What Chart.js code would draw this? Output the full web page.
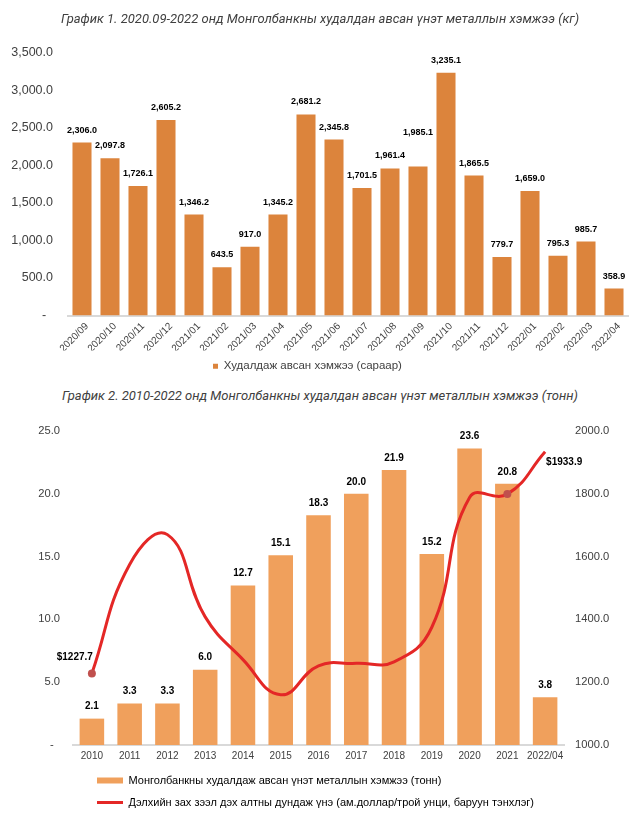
<!DOCTYPE html>
<html>
<head>
<meta charset="utf-8">
<script src="https://cdn.jsdelivr.net/npm/chart.js@4.4.1/dist/chart.umd.min.js"></script>
<style>
  html, body { margin: 0; padding: 0; background: #ffffff; }
  body { width: 640px; height: 813px; position: relative; overflow: hidden; }
  .title { position: absolute; left: 0; width: 640px; text-align: center; font: italic 13px Roboto, "Liberation Sans", sans-serif; color: #404040; line-height: 16px; z-index: 2; }
  #c1 { position: absolute; left: 0; top: 0; }
  #c2 { position: absolute; left: 0; top: 410px; }
</style>
</head>
<body>
<div class="title" style="top:11px">График 1. 2020.09-2022 онд Монголбанкны худалдан авсан үнэт металлын хэмжээ (кг)</div>
<canvas id="c1" width="640" height="382"></canvas>
<div class="title" style="top:388px">График 2. 2010-2022 онд Монголбанкны худалдан авсан үнэт металлын хэмжээ (тонн)</div>
<canvas id="c2" width="640" height="408"></canvas>
<script>
// ---------- Chart 1 data ----------
const months = ['2020/09','2020/10','2020/11','2020/12','2021/01','2021/02','2021/03','2021/04','2021/05','2021/06',
                '2021/07','2021/08','2021/09','2021/10','2021/11','2021/12','2022/01','2022/02','2022/03','2022/04'];
const monthlyKg = [2306.0, 2097.8, 1726.1, 2605.2, 1346.2, 643.5, 917.0, 1345.2, 2681.2, 2345.8,
                   1701.5, 1961.4, 1985.1, 3235.1, 1865.5, 779.7, 1659.0, 795.3, 985.7, 358.9];
const monthlyLabel = 'Худалдаж авсан хэмжээ (сараар)';
const kgTicks = [0, 500, 1000, 1500, 2000, 2500, 3000, 3500];

// ---------- Chart 2 data ----------
const years = ['2010','2011','2012','2013','2014','2015','2016','2017','2018','2019','2020','2021','2022/04'];
const yearlyTonnes = [2.1, 3.3, 3.3, 6.0, 12.7, 15.1, 18.3, 20.0, 21.9, 15.2, 23.6, 20.8, 3.8];
const goldPrice = [1227.7, 1575, 1670, 1408, 1272, 1160, 1252, 1260, 1265, 1375, 1788, 1799, 1933.9];
const yearlyLabel = 'Монголбанкны худалдаж авсан үнэт металлын хэмжээ (тонн)';
const priceLabel = 'Дэлхийн зах зээл дэх алтны дундаж үнэ (ам.доллар/трой унци, баруун тэнхлэг)';
const tonneTicks = [0, 5, 10, 15, 20, 25];
const priceTicks = [1000, 1200, 1400, 1600, 1800, 2000];

const FONT = '"Liberation Sans", Arial, sans-serif';
const fmtKg = v => v.toLocaleString('en-US', {minimumFractionDigits: 1, maximumFractionDigits: 1});
const fmt1 = v => v.toFixed(1);

function legendShift(left) {
  return { id: 'legendShift', beforeDraw(chart) { if (chart.legend) chart.legend.left = left; } };
}

// ---------- Chart 1 ----------
const barLabels1 = {
  id: 'barLabels1',
  afterDatasetsDraw(chart) {
    const ctx = chart.ctx;
    const meta = chart.getDatasetMeta(0);
    const data = chart.data.datasets[0].data;
    const extra = { 12: 22 };
    ctx.save();
    ctx.font = 'bold 9px ' + FONT;
    ctx.fillStyle = '#000000';
    ctx.textAlign = 'center';
    ctx.textBaseline = 'middle';
    meta.data.forEach((el, i) => ctx.fillText(fmtKg(data[i]), el.x, el.y - 12.5 - (extra[i] || 0)));
    ctx.restore();
  }
};

new Chart(document.getElementById('c1'), {
  type: 'bar',
  data: {
    labels: months,
    datasets: [{
      label: monthlyLabel,
      data: monthlyKg,
      backgroundColor: '#DC843C',
      borderWidth: 0,
      barPercentage: 0.68,
      categoryPercentage: 1.0
    }]
  },
  options: {
    responsive: false,
    devicePixelRatio: 1,
    animation: false,
    layout: { padding: { top: 53, left: 0, right: 12, bottom: 0 } },
    plugins: {
      tooltip: { enabled: false },
      legend: {
        position: 'bottom',
        align: 'start',
        labels: {
          font: { family: FONT, size: 11.5 },
          color: '#404040',
          boxWidth: 5,
          boxHeight: 5,
          padding: 10
        }
      }
    },
    scales: {
      x: {
        grid: { display: false, drawTicks: false },
        border: { display: true, color: '#d9d9d9', width: 2 },
        ticks: {
          autoSkip: false, minRotation: 45, maxRotation: 45, padding: 5, labelOffset: 5,
          font: { family: FONT, size: 10 }, color: '#404040'
        },
        afterFit: s => { s.height = 35; }
      },
      y: {
        min: 0, max: 3500,
        grid: { display: false, drawTicks: false },
        border: { display: false },
        afterBuildTicks: s => { s.ticks = kgTicks.map(v => ({ value: v })); },
        ticks: {
          padding: 15,
          font: { family: FONT, size: 12.5 }, color: '#404040',
          callback: v => v === 0 ? '-  ' : fmtKg(v)
        },
        afterFit: s => { s.width = 68; }
      }
    }
  },
  plugins: [barLabels1, legendShift(203)]
});

// ---------- Chart 2 ----------
const lineLabels = {
  id: 'lineLabels',
  afterDatasetsDraw(chart) {
    const ctx = chart.ctx;
    const meta = chart.getDatasetMeta(1);
    const data = chart.data.datasets[1].data;
    ctx.save();
    ctx.font = 'bold 10px ' + FONT;
    ctx.fillStyle = '#000000';
    ctx.textBaseline = 'middle';
    const first = meta.data[0], last = meta.data[data.length - 1];
    ctx.textAlign = 'right';
    ctx.fillText('$' + data[0].toFixed(1), first.x + 1, first.y - 16);
    ctx.textAlign = 'left';
    ctx.fillText('$' + data[data.length - 1].toFixed(1), last.x + 1, last.y + 10);
    ctx.restore();
  }
};
const barLabels2 = {
  id: 'barLabels2',
  afterDatasetsDraw(chart) {
    const ctx = chart.ctx;
    const meta = chart.getDatasetMeta(0);
    const data = chart.data.datasets[0].data;
    ctx.save();
    ctx.font = 'bold 10px ' + FONT;
    ctx.fillStyle = '#000000';
    ctx.textAlign = 'center';
    ctx.textBaseline = 'middle';
    meta.data.forEach((el, i) => ctx.fillText(fmt1(data[i]), el.x, el.y - 12));
    ctx.restore();
  }
};

new Chart(document.getElementById('c2'), {
  type: 'bar',
  data: {
    labels: years,
    datasets: [{
      type: 'bar',
      label: yearlyLabel,
      data: yearlyTonnes,
      backgroundColor: '#F0A05C',
      borderWidth: 0,
      barPercentage: 0.65,
      categoryPercentage: 1.0,
      yAxisID: 'y',
      order: 1
    }, {
      type: 'line',
      label: priceLabel,
      data: goldPrice,
      borderColor: '#E42726',
      borderWidth: 3,
      tension: 0.45,
      pointRadius: [4, 0, 0, 0, 0, 0, 0, 0, 0, 0, 0, 4, 0],
      pointBackgroundColor: '#C0504D',
      pointBorderWidth: 0,
      pointHoverRadius: 0,
      yAxisID: 'y1',
      order: 0
    }]
  },
  options: {
    responsive: false,
    devicePixelRatio: 1,
    animation: false,
    layout: { padding: { top: 21, left: 0, right: 0, bottom: 0 } },
    plugins: {
      tooltip: { enabled: false },
      legend: {
        position: 'bottom',
        align: 'start',
        labels: {
          font: { family: FONT, size: 11 },
          color: '#404040',
          usePointStyle: true,
          pointStyleWidth: 26,
          boxHeight: 6,
          padding: 11,
          generateLabels: chart => [
            { text: yearlyLabel, fillStyle: '#F0A05C', strokeStyle: '#F0A05C', lineWidth: 0, pointStyle: 'rect', datasetIndex: 0 },
            { text: priceLabel, fillStyle: '#E42726', strokeStyle: '#E42726', lineWidth: 3, pointStyle: 'line', datasetIndex: 1 }
          ]
        }
      }
    },
    scales: {
      x: {
        grid: { display: false, drawTicks: false },
        border: { display: true, color: '#d9d9d9', width: 2 },
        ticks: { autoSkip: false, maxRotation: 0, padding: 5, font: { family: FONT, size: 10 }, color: '#404040' },
        afterFit: s => { s.height = 19; }
      },
      y: {
        position: 'left',
        min: 0, max: 25,
        grid: { display: false, drawTicks: false },
        border: { display: false },
        afterBuildTicks: s => { s.ticks = tonneTicks.map(v => ({ value: v })); },
        ticks: {
          padding: 13, font: { family: FONT, size: 11.2 }, color: '#404040',
          callback: v => v === 0 ? '-  ' : fmt1(v)
        },
        afterFit: s => { s.width = 73; }
      },
      y1: {
        position: 'right',
        min: 1000, max: 2000,
        grid: { display: false, drawTicks: false },
        border: { display: false },
        afterBuildTicks: s => { s.ticks = priceTicks.map(v => ({ value: v })); },
        ticks: {
          padding: 11, font: { family: FONT, size: 11.2 }, color: '#404040',
          callback: v => fmt1(v)
        },
        afterFit: s => { s.width = 76; }
      }
    }
  },
  plugins: [barLabels2, lineLabels, legendShift(86)]
});
</script>
</body>
</html>
